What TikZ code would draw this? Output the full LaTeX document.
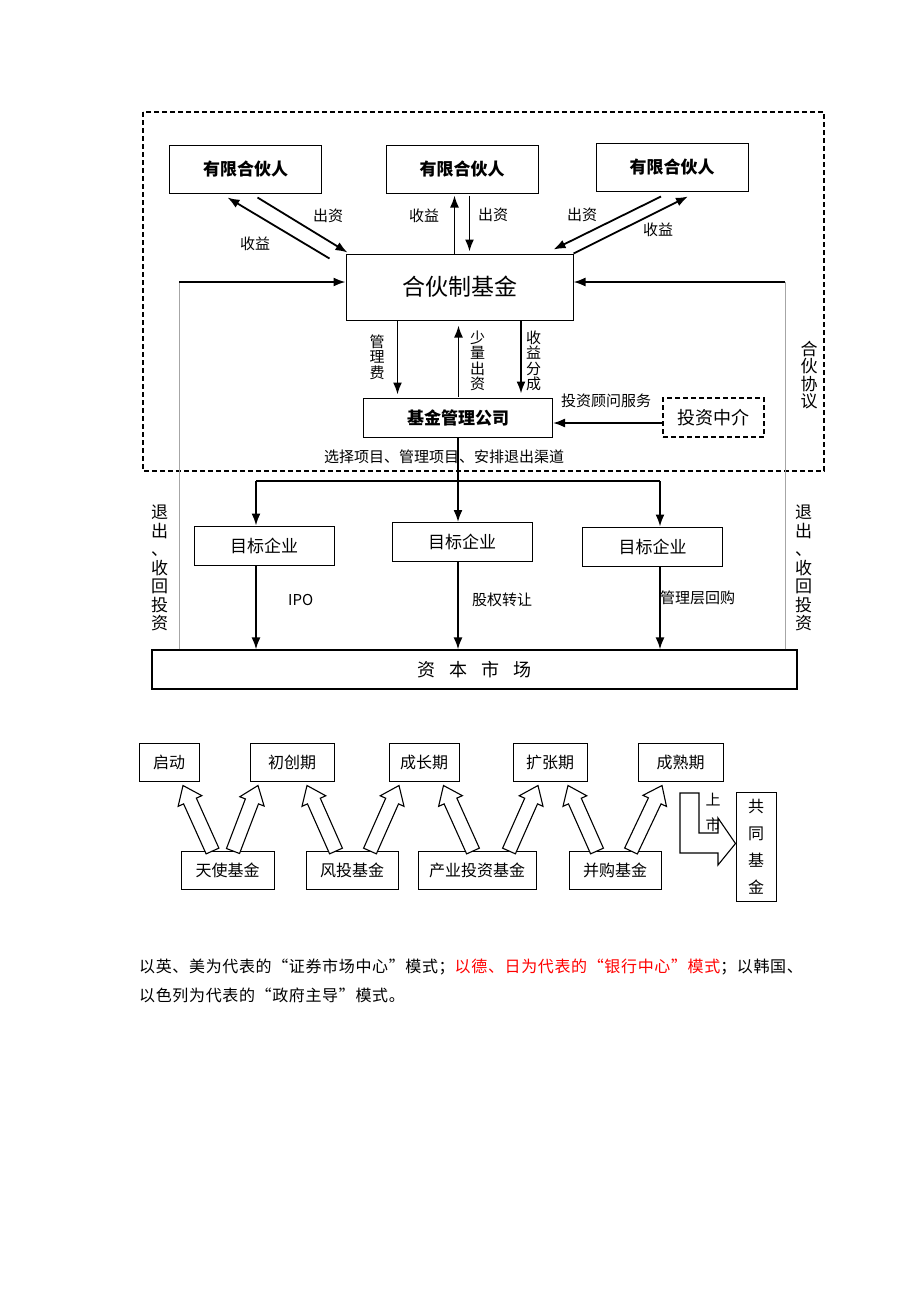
\documentclass[tikz,border=0pt]{standalone}
\usepackage{fontspec}
\setmainfont{Noto Sans CJK SC}
\usepackage{tikz}
\usetikzlibrary{shapes,arrows,arrows.meta,positioning,calc}
\tikzset{partner/.style={rectangle, draw, fill=white, line width=1pt, minimum width=152pt, minimum height=48pt, font=\bfseries\fontsize{17}{17}\selectfont}}
\tikzset{fund/.style={rectangle, draw, fill=white, line width=1pt, minimum width=227pt, minimum height=66pt, font=\fontsize{23}{23}\selectfont}}
\tikzset{manager/.style={rectangle, draw, fill=white, line width=1pt, minimum width=189pt, minimum height=39pt, font=\bfseries\fontsize{17}{17}\selectfont}}
\tikzset{agent/.style={rectangle, draw, fill=white, line width=1.5pt, dash pattern=on 5pt off 3pt, minimum width=101pt, minimum height=39pt, font=\fontsize{18}{18}\selectfont}}
\tikzset{target/.style={rectangle, draw, fill=white, line width=1pt, minimum width=140pt, minimum height=39pt, font=\fontsize{17}{17}\selectfont}}
\tikzset{market/.style={rectangle, draw, fill=white, line width=1.2pt, minimum width=645pt, minimum height=39pt, font=\fontsize{18}{18}\selectfont}}
\tikzset{stage/.style={rectangle, draw, fill=white, line width=1pt, minimum height=38pt, inner sep=2pt, font=\fontsize{16}{16}\selectfont}}
\tikzset{lbl/.style={inner sep=1pt, font=\fontsize{15}{15}\selectfont}}
\tikzset{vlbl/.style={inner sep=1pt, align=center, font=\fontsize{15}{15.5}\selectfont}}
\tikzset{frame/.style={draw, line width=1.5pt, dash pattern=on 5pt off 3pt}}
\tikzset{greyline/.style={draw, gray!70, line width=0.7pt}}
\tikzset{line/.style={draw, -{Latex[length=12pt, width=9pt]}, line width=1.8pt}}
\tikzset{fatline/.style={draw, fill=white, line width=1.1pt, line join=miter}}
\tikzset{note/.style={inner sep=0pt, anchor=west, font=\fontsize{16}{16}\selectfont\addfontfeature{LetterSpace=4}}}

% hollow block arrow from #1 to #2
\newcommand{\blockarrow}[2]{%
  \coordinate (hb) at ($(#2)!17pt!(#1)$);
  \draw[fatline] ($(#1)!7pt!90:(#2)$) -- ($(hb)!7pt!-90:(#1)$) -- ($(hb)!13pt!-90:(#1)$) -- (#2)
    -- ($(hb)!13pt!90:(#1)$) -- ($(hb)!7pt!90:(#1)$) -- ($(#1)!7pt!-90:(#2)$) -- cycle;}

\begin{document}
\begin{tikzpicture}[x=1pt, y=-1pt]
        \fill[white] (0,0) rectangle (920,1302);
        \useasboundingbox (0,0) rectangle (920,1302);

        % partnership part
        \draw[frame] (143,112) rectangle (824,471);
        \node[partner] (lp1) at (245.5,169) {有限合伙人};
        \node[partner] (lp2) at (462,169)   {有限合伙人};
        \node[partner] (lp3) at (672,167)   {有限合伙人};
        \node[fund]    (fund) at (459.5,287) {合伙制基金};
        \node[manager] (mgr) at (458,417.5) {基金管理公司};
        \node[agent]   (agent) at (713.5,417.5) {投资中介};

        \path[line] ($(fund.north west)+(-16,5)$) -- ($(lp1.south)+(-18,4)$);
        \path[line] ($(lp1.south)+(12,4)$)        -- ($(fund.north west)+(2,-1)$);
        \path[line] ($(fund.north)+(-5,0)$)       -- ($(fund.north |- lp2.south)+(-5,2)$);
        \path[line] ($(fund.north |- lp2.south)+(10,2)$) -- ($(fund.north)+(10,-2)$);
        \path[line] ($(lp3.south)+(-11,5)$)       -- ($(fund.north east)+(-20,-4)$);
        \path[line] (fund.north east)             -- ($(lp3.south)+(16,5)$);

        \node[lbl] (in1)  at (328,216) {出资};
        \node[lbl] (out1) at (255,244) {收益};
        \node[lbl] (out2) at (424,216) {收益};
        \node[lbl] (in2)  at (493,215) {出资};
        \node[lbl] (in3)  at (582,215) {出资};
        \node[lbl] (out3) at (658,230) {收益};

        \path[line] ($(fund.south)+(-62,0)$) -- ($(fund.south |- mgr.north)+(-62,-3)$);
        \path[line] ($(mgr.north)+(0.5,-1)$) -- ($(mgr.north |- fund.south)+(0.5,5)$);
        \path[line] ($(fund.south)+(61.5,0)$) -- ($(fund.south |- mgr.north)+(61.5,-4)$);
        \node[vlbl] (fee)   at (377,357) {管\\理\\费};
        \node[vlbl] (small) at (477.5,361) {少\\量\\出\\资};
        \node[vlbl] (carry) at (533.5,361) {收\\益\\分\\成};

        \path[line] ($(agent.west)+(0,5.5)$) -- ($(mgr.east |- agent.west)+(0,5.5)$);
        \node[lbl] (advice) at (606,401) {投资顾问服务};
        \node[vlbl, font=\fontsize{17}{17.5}\selectfont] (pact) at (809,375) {合\\伙\\协\\议};
        \node[lbl] (tasks) at (444,456.5) {选择项目、管理项目、安排退出渠道};

        % targets and exits
        \node[target] (t1) at (264,545.5) {目标企业};
        \node[target] (t2) at (462,542)   {目标企业};
        \node[target] (t3) at (652.5,546.5) {目标企业};
        \node[market] (market) at (474.5,669.5) {资\hspace{14pt}本\hspace{14pt}市\hspace{14pt}场};

        \coordinate (brl) at (256,481);
        \coordinate (brr) at (660,481);
        \draw[line width=1.8pt] (brl) -- (brr);
        \path[line] (mgr.south) -- (mgr.south |- t2.north);
        \path[line] (brl) -- (brl |- t1.north);
        \path[line] (brr) -- (brr |- t3.north);
        \path[line] (brl |- t1.south) -- (brl |- market.north);
        \path[line] (mgr.south |- t2.south) -- (mgr.south |- market.north);
        \path[line] (brr |- t3.south) -- (brr |- market.north);
        \node[lbl, anchor=west] (ipo)  at (287,600) {IPO};
        \node[lbl, anchor=west] (sell) at (471,600) {股权转让};
        \node[lbl, anchor=west] (mbo)  at (659,598) {管理层回购};

        \coordinate (retl) at (179,282);
        \coordinate (retr) at (785,282);
        \path[greyline] (retl |- market.north) -- (retl);
        \path[greyline] (retr |- market.north) -- (retr);
        \path[line] (retl) -- (retl -| fund.west);
        \path[line] (retr) -- (retr -| fund.east);
        \node[vlbl, font=\fontsize{17}{18.5}\selectfont] (exitl) at (159.5,568) {退\\出\\、\\收\\回\\投\\资};
        \node[vlbl, font=\fontsize{17}{18.5}\selectfont] (exitr) at (803.5,568) {退\\出\\、\\收\\回\\投\\资};

        % stages and funds
        \node[stage, minimum width=60pt] (qd) at (169,762)   {启动};
        \node[stage, minimum width=84pt] (cc) at (292,762)   {初创期};
        \node[stage, minimum width=70pt] (cz) at (424,762)   {成长期};
        \node[stage, minimum width=74pt] (kz) at (550,762)   {扩张期};
        \node[stage, minimum width=85pt] (cs) at (680.5,762) {成熟期};
        \node[stage, minimum width=93pt]  (ts) at (227.5,870.5) {天使基金};
        \node[stage, minimum width=92pt]  (ft) at (352,870.5)   {风投基金};
        \node[stage, minimum width=118pt] (cy) at (477,870.5)   {产业投资基金};
        \node[stage, minimum width=92pt]  (bg) at (615,870.5)   {并购基金};
        \node[stage, minimum width=40pt, minimum height=109pt, align=center, font=\fontsize{16}{27}\selectfont] (gt) at (756,846.5) {共\\同\\基\\金};

        \blockarrow{$(ts.north)+(-15,0)$}{$(qd.south)+(14,4)$}
        \blockarrow{$(ts.north)+(5.5,0)$}{$(cc.south)+(-34,4)$}
        \blockarrow{$(ft.north)+(-16,0)$}{$(cc.south)+(15,4)$}
        \blockarrow{$(ft.north)+(18,0)$}{$(cz.south)+(-25,4)$}
        \blockarrow{$(cy.north)+(-4,0)$}{$(cz.south)+(19.5,4)$}
        \blockarrow{$(cy.north)+(32,0)$}{$(kz.south)+(-12,4)$}
        \blockarrow{$(bg.north)+(-18,0)$}{$(kz.south)+(18,4)$}
        \blockarrow{$(bg.north)+(16,0)$}{$(cs.south)+(-18.5,4)$}

        \draw[fatline] (680,793) -- (699,793) -- (699,833) -- (718,833) -- (718,818) -- ($(gt.west)+(0,-3)$)
          -- (718,865) -- (718,853) -- (680,853) -- cycle;
        \node[vlbl, font=\fontsize{15}{25}\selectfont] (ipo2) at (713,812) {上\\市};

        % notes
        \node[note] (note1) at (139,967) {以英、美为代表的“证券市场中心”模式；\textcolor{red}{以德、日为代表的“银行中心”模式}；以韩国、};
        \node[note] (note2) at (139,995) {以色列为代表的“政府主导”模式。};
\end{tikzpicture}
\end{document}
